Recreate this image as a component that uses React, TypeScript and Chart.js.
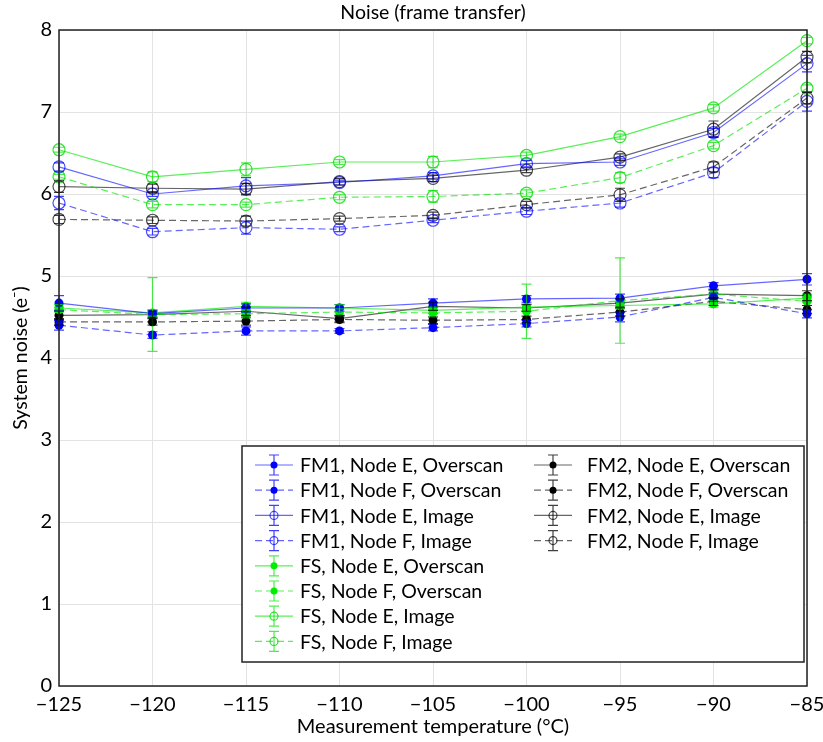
import React, { useEffect, useRef } from "react";
import { Chart, registerables } from "chart.js";

Chart.register(...registerables);

const temps = [-125, -120, -115, -110, -105, -100, -95, -90, -85];
const xTicks = [-125, -120, -115, -110, -105, -100, -95, -90, -85];
const yTicks = [0, 1, 2, 3, 4, 5, 6, 7, 8];

// Overscan series
const fm1EOver = [4.67, 4.54, 4.61, 4.61, 4.67, 4.72, 4.73, 4.88, 4.96];
const fm1FOver = [4.40, 4.28, 4.33, 4.33, 4.37, 4.42, 4.50, 4.74, 4.54];
const fsEOver = [4.61, 4.55, 4.63, 4.61, 4.58, 4.62, 4.64, 4.66, 4.73];
const fsFOver = [4.59, 4.53, 4.54, 4.56, 4.55, 4.57, 4.70, 4.78, 4.69];
const fm2EOver = [4.52, 4.53, 4.57, 4.48, 4.63, 4.61, 4.67, 4.78, 4.76];
const fm2FOver = [4.44, 4.44, 4.45, 4.47, 4.46, 4.47, 4.56, 4.69, 4.59];

// Image series
const fm1EImg = [6.33, 6.00, 6.10, 6.14, 6.22, 6.37, 6.39, 6.75, 7.59];
const fm1FImg = [5.89, 5.54, 5.59, 5.57, 5.68, 5.79, 5.89, 6.26, 7.13];
const fsEImg = [6.54, 6.21, 6.30, 6.39, 6.39, 6.47, 6.70, 7.05, 7.87];
const fsFImg = [6.21, 5.87, 5.87, 5.96, 5.97, 6.01, 6.20, 6.59, 7.29];
const fm2EImg = [6.09, 6.07, 6.06, 6.15, 6.19, 6.29, 6.45, 6.79, 7.67];
const fm2FImg = [5.69, 5.68, 5.67, 5.70, 5.74, 5.87, 5.99, 6.33, 7.17];

// Error half-widths
const fm1EOverErr = [0.09, 0.04, 0.05, 0.04, 0.05, 0.04, 0.05, 0.04, 0.07];
const fm1FOverErr = [0.06, 0.04, 0.05, 0.03, 0.04, 0.04, 0.06, 0.05, 0.05];
const fsEOverErr = [0.04, 0.04, 0.05, 0.04, 0.04, 0.04, 0.04, 0.04, 0.05];
const fsFOverErr = [0.03, 0.45, 0.05, 0.04, 0.05, 0.33, 0.52, 0.04, 0.05];
const fm2EOverErr = [0.05, 0.04, 0.05, 0.04, 0.05, 0.04, 0.05, 0.05, 0.06];
const fm2FOverErr = [0.04, 0.04, 0.05, 0.04, 0.04, 0.04, 0.05, 0.05, 0.05];
const fm1EImgErr = [0.05, 0.03, 0.10, 0.03, 0.04, 0.04, 0.04, 0.05, 0.10];
const fm1FImgErr = [0.08, 0.04, 0.08, 0.03, 0.03, 0.04, 0.05, 0.06, 0.12];
const fsEImgErr = [0.03, 0.06, 0.08, 0.03, 0.07, 0.04, 0.03, 0.04, 0.04];
const fsFImgErr = [0.03, 0.04, 0.03, 0.03, 0.07, 0.04, 0.06, 0.04, 0.04];
const fm2EImgErr = [0.07, 0.05, 0.07, 0.04, 0.04, 0.03, 0.04, 0.10, 0.07];
const fm2FImgErr = [0.05, 0.04, 0.06, 0.03, 0.04, 0.04, 0.08, 0.06, 0.07];

const legendCol1 = [
  "FM1, Node E, Overscan",
  "FM1, Node F, Overscan",
  "FM1, Node E, Image",
  "FM1, Node F, Image",
  "FS, Node E, Overscan",
  "FS, Node F, Overscan",
  "FS, Node E, Image",
  "FS, Node F, Image",
];
const legendCol2 = [
  "FM2, Node E, Overscan",
  "FM2, Node F, Overscan",
  "FM2, Node E, Image",
  "FM2, Node F, Image",
];

const FONT = "Lato, 'Open Sans', sans-serif";

const COLORS: Record<string, { line: string; mark: string; solid: string; err: string }> = {
  blue: { line: "rgba(0,0,255,0.6)", mark: "rgba(0,0,255,0.7)", solid: "#0000ff", err: "rgba(0,0,255,0.75)" },
  green: { line: "rgba(0,230,0,0.65)", mark: "rgba(0,220,0,0.8)", solid: "#00ee00", err: "rgba(0,230,0,0.7)" },
  black: { line: "rgba(0,0,0,0.6)", mark: "rgba(0,0,0,0.7)", solid: "#000000", err: "rgba(0,0,0,0.75)" },
};

type SeriesDef = { label: string; vals: number[]; err: number[]; color: string; dashed: boolean; filled: boolean };

const series: SeriesDef[] = [
  { label: legendCol1[0], vals: fm1EOver, err: fm1EOverErr, color: "blue", dashed: false, filled: true },
  { label: legendCol1[1], vals: fm1FOver, err: fm1FOverErr, color: "blue", dashed: true, filled: true },
  { label: legendCol1[2], vals: fm1EImg, err: fm1EImgErr, color: "blue", dashed: false, filled: false },
  { label: legendCol1[3], vals: fm1FImg, err: fm1FImgErr, color: "blue", dashed: true, filled: false },
  { label: legendCol1[4], vals: fsEOver, err: fsEOverErr, color: "green", dashed: false, filled: true },
  { label: legendCol1[5], vals: fsFOver, err: fsFOverErr, color: "green", dashed: true, filled: true },
  { label: legendCol1[6], vals: fsEImg, err: fsEImgErr, color: "green", dashed: false, filled: false },
  { label: legendCol1[7], vals: fsFImg, err: fsFImgErr, color: "green", dashed: true, filled: false },
  { label: legendCol2[0], vals: fm2EOver, err: fm2EOverErr, color: "black", dashed: false, filled: true },
  { label: legendCol2[1], vals: fm2FOver, err: fm2FOverErr, color: "black", dashed: true, filled: true },
  { label: legendCol2[2], vals: fm2EImg, err: fm2EImgErr, color: "black", dashed: false, filled: false },
  { label: legendCol2[3], vals: fm2FImg, err: fm2FImgErr, color: "black", dashed: true, filled: false },
];

const DASH = [7, 4];

function minusFmt(v: number) {
  return v < 0 ? "\u2212" + Math.abs(v) : String(v);
}

function drawMarker(ctx: CanvasRenderingContext2D, x: number, y: number, s: SeriesDef, rFilled: number, rOpen: number) {
  const c = COLORS[s.color];
  ctx.save();
  ctx.setLineDash([]);
  ctx.beginPath();
  if (s.filled) {
    ctx.arc(x, y, rFilled, 0, Math.PI * 2);
    ctx.fillStyle = c.solid;
    ctx.fill();
  } else {
    ctx.arc(x, y, rOpen, 0, Math.PI * 2);
    ctx.strokeStyle = c.mark;
    ctx.lineWidth = 1.2;
    ctx.stroke();
  }
  ctx.restore();
}

function drawErr(ctx: CanvasRenderingContext2D, x: number, y1: number, y2: number, color: string) {
  ctx.save();
  ctx.setLineDash([]);
  ctx.strokeStyle = color;
  ctx.lineWidth = 1.2;
  ctx.beginPath();
  ctx.moveTo(x, y1);
  ctx.lineTo(x, y2);
  ctx.moveTo(x - 5, y1);
  ctx.lineTo(x + 5, y1);
  ctx.moveTo(x - 5, y2);
  ctx.lineTo(x + 5, y2);
  ctx.stroke();
  ctx.restore();
}

const decorPlugin = {
  id: "decor",
  afterDatasetsDraw(chart: any) {
    const ctx: CanvasRenderingContext2D = chart.ctx;
    const ys = chart.scales.y;
    chart.data.datasets.forEach((ds: any, i: number) => {
      const meta = chart.getDatasetMeta(i);
      const s: SeriesDef = series[i];
      meta.data.forEach((pt: any, j: number) => {
        const v = s.vals[j];
        const e = s.err[j];
        drawErr(ctx, pt.x, ys.getPixelForValue(v + e), ys.getPixelForValue(v - e), COLORS[s.color].err);
      });
    });
  },
  afterDraw(chart: any) {
    const ctx: CanvasRenderingContext2D = chart.ctx;
    const a = chart.chartArea;
    ctx.save();
    ctx.strokeStyle = "#222";
    ctx.lineWidth = 1.5;
    ctx.setLineDash([]);
    ctx.strokeRect(a.left, a.top, a.right - a.left, a.bottom - a.top);
    ctx.fillStyle = "#000";
    ctx.font = `19.5px ${FONT}`;
    ctx.textAlign = "center";
    ctx.textBaseline = "middle";
    ctx.fillText("Noise (frame transfer)", (a.left + a.right) / 2, 13);
    ctx.font = `20px ${FONT}`;
    ctx.fillText("Measurement temperature (\u00B0C)", (a.left + a.right) / 2, 727);
    ctx.save();
    ctx.translate(21, (a.top + a.bottom) / 2);
    ctx.rotate(-Math.PI / 2);
    ctx.font = `19.5px ${FONT}`;
    ctx.fillText("System noise (e\u207B)", 0, 0);
    ctx.restore();

    // legend
    const bx = 242, by = 446, bw = 562, bh = 216;
    ctx.fillStyle = "#fff";
    ctx.fillRect(bx, by, bw, bh);
    ctx.strokeStyle = "#222";
    ctx.lineWidth = 1.5;
    ctx.strokeRect(bx, by, bw, bh);
    ctx.font = `19.5px ${FONT}`;
    ctx.textAlign = "left";
    ctx.textBaseline = "middle";
    const rowH = 25.2;
    const drawEntry = (s: SeriesDef, x0: number, y: number, tx: number) => {
      const c = COLORS[s.color];
      ctx.save();
      ctx.strokeStyle = c.line;
      ctx.lineWidth = 1.2;
      ctx.setLineDash(s.dashed ? DASH : []);
      ctx.beginPath();
      ctx.moveTo(x0, y);
      ctx.lineTo(x0 + 38, y);
      ctx.stroke();
      ctx.restore();
      drawErr(ctx, x0 + 19, y - 10, y + 10, c.err);
      drawMarker(ctx, x0 + 19, y, s, 3.5, 4);
      ctx.fillStyle = "#000";
      ctx.fillText(s.label, tx, y + 1);
    };
    series.forEach((s, i) => {
      if (i < 8) drawEntry(s, 255, 465 + i * rowH, 300);
      else drawEntry(s, 534, 465 + (i - 8) * rowH, 587);
    });
    ctx.restore();
  },
};

export default function App() {
  const ref = useRef<HTMLCanvasElement | null>(null);
  useEffect(() => {
    if (!ref.current) return;
    const chart = new Chart(ref.current, {
      type: "line",
      data: {
        datasets: series.map((s) => {
          const c = COLORS[s.color];
          return {
            label: s.label,
            data: temps.map((t, i) => ({ x: t, y: s.vals[i] })),
            borderColor: c.line,
            borderWidth: 1.2,
            borderDash: s.dashed ? DASH : [],
            pointStyle: "circle",
            pointRadius: s.filled ? 4.5 : 6,
            pointBackgroundColor: s.filled ? c.solid : "rgba(0,0,0,0)",
            pointBorderColor: s.filled ? c.solid : c.mark,
            pointBorderWidth: s.filled ? 0 : 1.2,
            fill: false,
            tension: 0,
            clip: false,
          } as any;
        }),
      },
      options: {
        responsive: false,
        animation: false,
        events: [],
        layout: { padding: { top: 30, right: 16, left: 0, bottom: 0 } },
        plugins: { legend: { display: false }, title: { display: false }, tooltip: { enabled: false } },
        scales: {
          x: {
            type: "linear",
            min: -125,
            max: -85,
            afterBuildTicks: (sc: any) => {
              sc.ticks = xTicks.map((v) => ({ value: v }));
            },
            afterFit: (sc: any) => {
              sc.height = 56;
              sc.paddingLeft = 0;
              sc.paddingRight = 0;
            },
            grid: { color: "#e3e3e3", drawTicks: false, lineWidth: 1 },
            border: { display: false },
            ticks: {
              padding: 7,
              color: "#000",
              font: { family: FONT, size: 20 },
              callback: (v: any) => minusFmt(Number(v)),
              maxRotation: 0,
            },
          },
          y: {
            type: "linear",
            min: 0,
            max: 8,
            afterBuildTicks: (sc: any) => {
              sc.ticks = yTicks.map((v) => ({ value: v }));
            },
            afterFit: (sc: any) => {
              sc.width = 59;
              sc.paddingTop = 0;
              sc.paddingBottom = 0;
            },
            grid: { color: "#e3e3e3", drawTicks: false, lineWidth: 1 },
            border: { display: false },
            ticks: {
              padding: 7,
              color: "#000",
              font: { family: FONT, size: 20 },
              callback: (v: any) => minusFmt(Number(v)),
            },
          },
        },
      },
      plugins: [decorPlugin],
    });
    return () => chart.destroy();
  }, []);
  return (
    <div style={{ position: "fixed", left: 0, top: 0, width: 823, height: 742, background: "#fff" }}>
      <canvas ref={ref} width={823} height={742} style={{ display: "block" }} />
    </div>
  );
}
